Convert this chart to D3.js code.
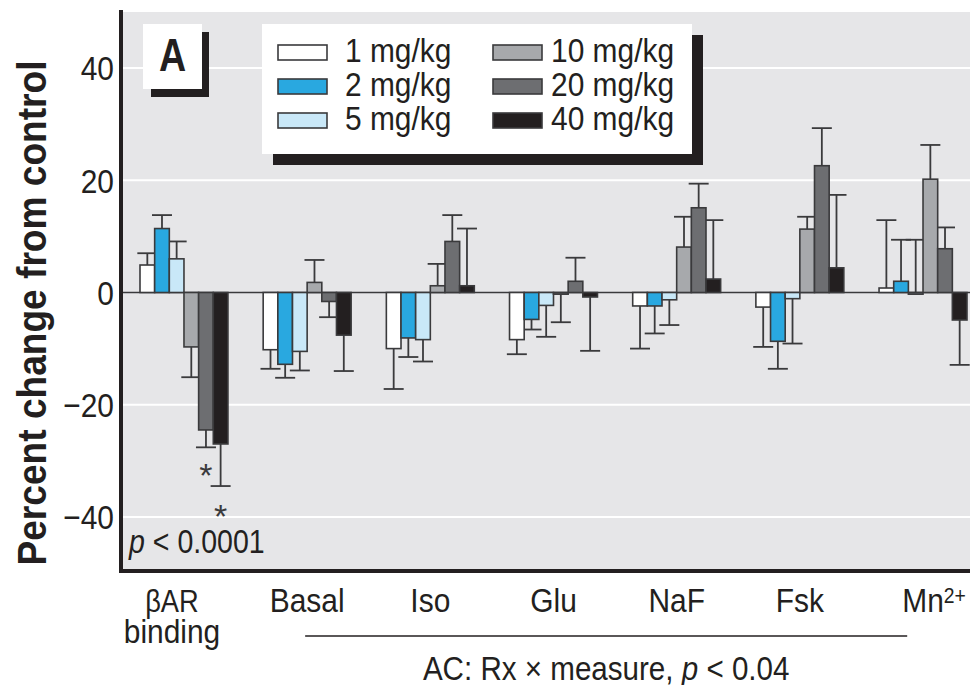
<!DOCTYPE html>
<html>
<head>
<meta charset="utf-8">
<title>Percent change from control</title>
<script src="https://cdn.jsdelivr.net/npm/d3@7"></script>
<style>
  html, body { margin: 0; padding: 0; background: #fff; }
  svg text { font-family: "Liberation Sans", Arial, sans-serif; fill: #231f20; }
</style>
</head>
<body>
<svg id="chart" width="970" height="685"></svg>
<script>
// measures on the x axis
var categories = ["βAR binding", "Basal", "Iso", "Glu", "NaF", "Fsk", "Mn2+"];
// dose groups
var series = ["1 mg/kg", "2 mg/kg", "5 mg/kg", "10 mg/kg", "20 mg/kg", "40 mg/kg"];
var colors = ["#ffffff", "#29a8e0", "#c9e8f8", "#a7a9ac", "#6d6e71", "#231f20"];

// mean percent change, one list per dose, in category order
var v1 = [4.9, -10.2, -10.0, -8.4, -2.4, -2.6, 0.8];
var v2 = [11.4, -12.8, -8.1, -4.8, -2.4, -8.7, 2.0];
var v5 = [6.0, -10.5, -8.4, -2.3, -1.3, -1.1, -0.3];
var v10 = [-9.7, 1.8, 1.2, -0.3, 8.1, 11.3, 20.2];
var v20 = [-24.5, -1.6, 9.1, 2.0, 15.1, 22.6, 7.8];
var v40 = [-27.0, -7.6, 1.2, -0.8, 2.4, 4.4, -4.9];

// error bar length (signed: + drawn up, - drawn down)
var e1 = [2.1, -3.4, -7.2, -2.6, -7.6, -7.1, 12.1];
var e2 = [2.4, -2.4, -3.4, -1.8, -4.9, -4.9, 7.4];
var e5 = [3.1, -3.4, -3.9, -5.6, -4.5, -8.0, 9.7];
var e10 = [-5.4, 4.0, 3.9, -5.0, 5.4, 2.2, 6.1];
var e20 = [-3.1, -2.8, 4.7, 4.2, 4.3, 6.7, 3.8];
var e40 = [-7.5, -6.4, 10.2, -9.6, 10.5, 13.0, -8.0];

var yTicks = [-40, -20, 0, 20, 40];
// significance marks
var stars = [
  { cat: "βAR binding", dose: "20 mg/kg", at: -31.3 },
  { cat: "βAR binding", dose: "40 mg/kg", at: -38.7 }
];

var values = [v1, v2, v5, v10, v20, v40];
var errors = [e1, e2, e5, e10, e20, e40];

var SX = 0.88; // squeeze text to look like a condensed face
function tr(px, py, k) { return "translate(" + px + "," + py + ") scale(" + (k || SX) + ",1)"; }

var svg = d3.select("#chart");

var plot = { left: 121, right: 970, top: 12, bottom: 570 };

var x = d3.scaleBand().domain(categories).range([140, 967]).paddingInner(0.286).paddingOuter(0);
var xs = d3.scaleBand().domain(series).range([0, x.bandwidth()]);
var y = d3.scaleLinear().domain([-50, 50]).range([573, 12]);
function mid(c) { return x(c) + x.bandwidth() / 2; }

// background + grid
svg.append("rect")
  .attr("x", plot.left).attr("y", plot.top)
  .attr("width", plot.right - plot.left).attr("height", plot.bottom - plot.top)
  .attr("fill", "#e6e6e8");

svg.append("g").selectAll("line")
  .data(yTicks.filter(function(d) { return d !== 0; }))
  .join("line")
  .attr("x1", plot.left).attr("x2", plot.right)
  .attr("y1", function(d) { return y(d); }).attr("y2", function(d) { return y(d); })
  .attr("stroke", "#fff").attr("stroke-width", 2);

// flatten data
var rows = [];
series.forEach(function(s, i) {
  categories.forEach(function(c, j) {
    rows.push({ cat: c, dose: s, i: i, v: values[i][j], e: errors[i][j] });
  });
});
function bx(d) { return x(d.cat) + xs(d.dose) + xs.bandwidth() / 2; }

// error bars
var eb = svg.append("g").attr("stroke", "#3a3a3c").attr("stroke-width", 1.8);
eb.selectAll("line.stem").data(rows).join("line")
  .attr("class", "stem")
  .attr("x1", bx).attr("x2", bx)
  .attr("y1", function(d) { return y(d.v); })
  .attr("y2", function(d) { return y(d.v + d.e); });
eb.selectAll("line.cap").data(rows).join("line")
  .attr("class", "cap")
  .attr("x1", function(d) { return bx(d) - 10; })
  .attr("x2", function(d) { return bx(d) + 10; })
  .attr("y1", function(d) { return y(d.v + d.e); })
  .attr("y2", function(d) { return y(d.v + d.e); });

// zero line
svg.append("line")
  .attr("x1", plot.left).attr("x2", plot.right)
  .attr("y1", y(0)).attr("y2", y(0))
  .attr("stroke", "#3a3a3c").attr("stroke-width", 1.6);

// bars
svg.append("g").selectAll("rect").data(rows).join("rect")
  .attr("x", function(d) { return x(d.cat) + xs(d.dose); })
  .attr("y", function(d) { return y(Math.max(0, d.v)); })
  .attr("width", xs.bandwidth())
  .attr("height", function(d) { return Math.abs(y(d.v) - y(0)); })
  .attr("fill", function(d) { return colors[d.i]; })
  .attr("stroke", "#3a3a3c").attr("stroke-width", 1.6);

// asterisks
svg.append("g").selectAll("text").data(stars).join("text")
  .attr("transform", function(d) { return tr(bx(d), y(d.at), 1); })
  .attr("dy", "0.55em")
  .attr("text-anchor", "middle")
  .attr("font-size", 34)
  .style("fill", "#3a3a3c")
  .text("*");

// axes frame
svg.append("line")
  .attr("x1", plot.left).attr("x2", plot.left)
  .attr("y1", plot.top - 2).attr("y2", plot.bottom + 3)
  .attr("stroke", "#231f20").attr("stroke-width", 4);
svg.append("line")
  .attr("x1", plot.left - 2).attr("x2", plot.right)
  .attr("y1", plot.bottom + 1).attr("y2", plot.bottom + 1)
  .attr("stroke", "#231f20").attr("stroke-width", 4);

// y tick labels
svg.append("g").selectAll("text").data(yTicks).join("text")
  .attr("transform", function(d) { return tr(114, y(d)); })
  .attr("dy", "0.36em")
  .attr("text-anchor", "end")
  .attr("font-size", 34)
  .text(function(d) { return d < 0 ? "\u2212" + Math.abs(d) : d; });

// y title
svg.append("text")
  .attr("transform", "translate(46,313) rotate(-90)")
  .attr("text-anchor", "middle")
  .attr("font-size", 40)
  .attr("font-weight", "bold")
  .attr("textLength", 505)
  .attr("lengthAdjust", "spacingAndGlyphs")
  .text("Percent change from control");

// category labels
var cl = svg.append("g").selectAll("text").data(categories).join("text")
  .attr("text-anchor", "middle")
  .attr("font-size", 34);
cl.each(function(d) {
  var t = d3.select(this);
  var parts = d.split(" ");
  var m = d.match(/^([A-Za-z]+)(\d\+)$/);
  var shift = 0;
  if (m) {
    t.append("tspan").text(m[1]);
    var sup = t.append("tspan").attr("font-size", 22).attr("dy", -9).text(m[2]);
    shift = sup.node().getComputedTextLength() / 2 * SX;
  } else if (parts.length > 1) {
    parts.forEach(function(p, k) {
      t.append("tspan").attr("x", 0).attr("dy", k ? 31 : 0)
        .attr("font-size", k ? 34 : 31).text(p);
    });
    shift = -12;
  } else {
    t.text(d);
  }
  t.attr("transform", tr(mid(d) + shift, 612));
});

// AC bracket and note
var acL = mid("Basal") - 2, acR = x("Mn2+") + x.bandwidth() * 0.32;
svg.append("line")
  .attr("x1", acL).attr("x2", acR)
  .attr("y1", 636).attr("y2", 636)
  .attr("stroke", "#231f20").attr("stroke-width", 1.5);
var ac = svg.append("text")
  .attr("transform", tr((acL + acR) / 2, 680, 0.87))
  .attr("text-anchor", "middle")
  .attr("font-size", 34);
ac.append("tspan").text("AC: Rx \u00d7 measure, ");
ac.append("tspan").attr("font-style", "italic").text("p");
ac.append("tspan").text(" < 0.04");

// p value inside the plot
var pv = svg.append("text").attr("transform", tr(129, 553, 0.84)).attr("font-size", 34);
pv.append("tspan").attr("font-style", "italic").text("p");
pv.append("tspan").text(" < 0.0001");

// panel label A
svg.append("rect").attr("x", 151).attr("y", 32).attr("width", 58).attr("height", 65).attr("fill", "#231f20");
svg.append("rect").attr("x", 143).attr("y", 24).attr("width", 59).attr("height", 65).attr("fill", "#fff");
svg.append("text").attr("transform", tr(172.5, 71, 0.8))
  .attr("text-anchor", "middle").attr("font-size", 47).attr("font-weight", "bold")
  .text("A");

// legend
var lg = svg.append("g");
lg.append("rect").attr("x", 273).attr("y", 35).attr("width", 430).attr("height", 130).attr("fill", "#231f20");
lg.append("rect").attr("x", 262).attr("y", 24).attr("width", 430).attr("height", 130).attr("fill", "#fff");
var legendCols = [{ sx: 278, tx: 345 }, { sx: 493, tx: 551 }];
var items = lg.selectAll("g.item").data(series).join("g")
  .attr("class", "item")
  .attr("transform", function(d, i) {
    var c = legendCols[Math.floor(i / 3)];
    return "translate(" + c.sx + "," + (45 + (i % 3) * 34) + ")";
  });
items.append("rect")
  .attr("width", 49).attr("height", 15)
  .attr("fill", function(d, i) { return colors[i]; })
  .attr("stroke", "#3a3a3c").attr("stroke-width", 1.6);
items.append("text")
  .attr("transform", function(d, i) { var c = legendCols[Math.floor(i / 3)]; return tr(c.tx - c.sx, 17); })
  .attr("font-size", 34)
  .text(function(d) { return d; });
</script>
</body>
</html>
